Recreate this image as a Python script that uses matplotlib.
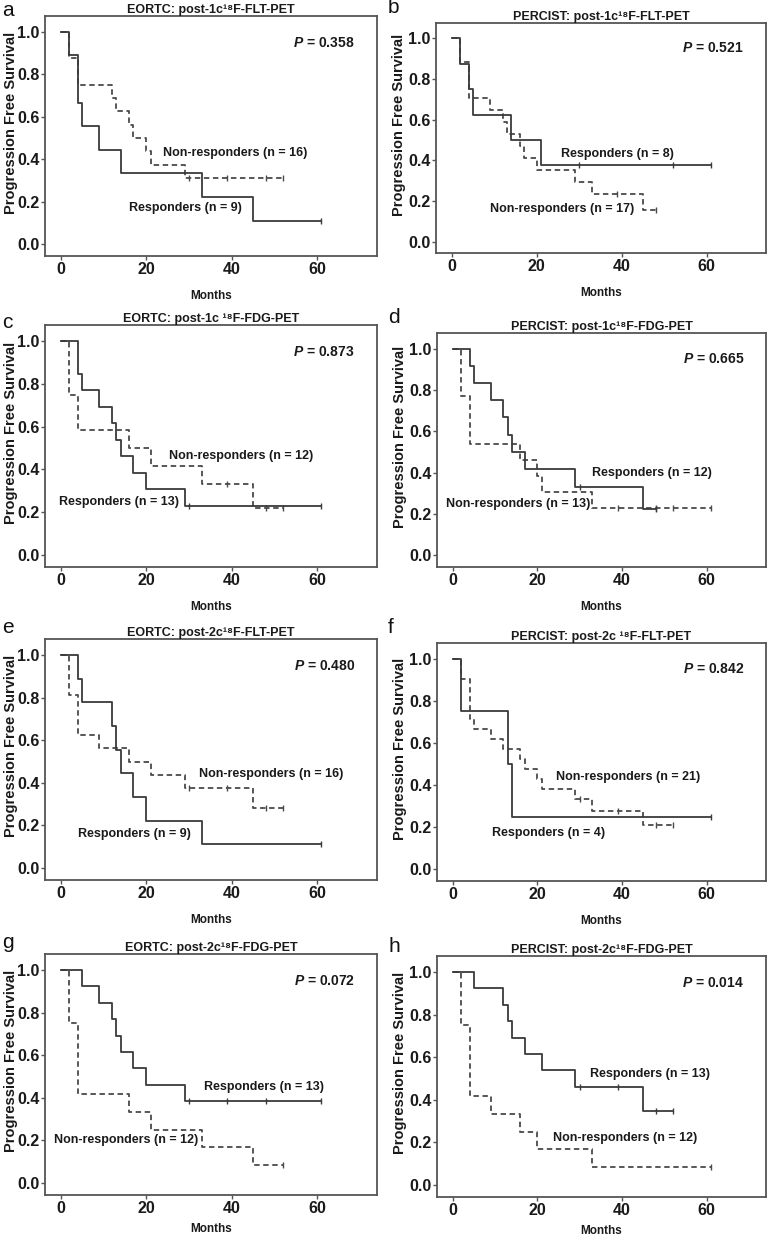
import numpy as np
import matplotlib
matplotlib.use('Agg')
import matplotlib.pyplot as plt

plt.rcParams['font.family'] = ['Liberation Sans', 'DejaVu Sans']
plt.rcParams['font.weight'] = 'bold'
plt.rcParams['axes.titleweight'] = 'bold'
plt.rcParams['axes.labelweight'] = 'bold'
plt.rcParams['mathtext.fontset'] = 'custom'
plt.rcParams['mathtext.rm'] = 'Liberation Sans:bold'
plt.rcParams['mathtext.bf'] = 'Liberation Sans:bold'
plt.rcParams['mathtext.it'] = 'Liberation Sans:italic:bold'

# ---- data ----
letters = ['a', 'b', 'c', 'd', 'e', 'f', 'g', 'h']
titles = ['EORTC: post-1c\u00b9\u2078F-FLT-PET',
          'PERCIST: post-1c\u00b9\u2078F-FLT-PET',
          'EORTC: post-1c \u00b9\u2078F-FDG-PET',
          'PERCIST: post-1c\u00b9\u2078F-FDG-PET',
          'EORTC: post-2c\u00b9\u2078F-FLT-PET',
          'PERCIST: post-2c \u00b9\u2078F-FLT-PET',
          'EORTC: post-2c\u00b9\u2078F-FDG-PET',
          'PERCIST: post-2c\u00b9\u2078F-FDG-PET']
pvalues = ['0.358', '0.521', '0.873', '0.665', '0.480', '0.842', '0.072', '0.014']

# responders (solid): event times, survival after event, end time, censor times
resp_t = [[2, 4, 5, 9, 14, 33, 45],
          [2, 4, 5, 14, 21],
          [4, 5, 9, 12, 13, 14, 17, 20, 29],
          [4, 5, 9, 12, 13, 14, 17, 29, 45],
          [4, 5, 12, 13, 14, 17, 20, 33],
          [2, 13, 14],
          [5, 9, 12, 13, 14, 17, 20, 29],
          [5, 12, 13, 14, 17, 21, 29, 45]]
resp_s = [[0.889, 0.667, 0.556, 0.444, 0.333, 0.222, 0.111],
          [0.875, 0.75, 0.625, 0.5, 0.375],
          [0.846, 0.769, 0.692, 0.615, 0.538, 0.462, 0.385, 0.308, 0.231],
          [0.917, 0.833, 0.75, 0.667, 0.583, 0.5, 0.417, 0.333, 0.222],
          [0.889, 0.778, 0.667, 0.556, 0.444, 0.333, 0.222, 0.111],
          [0.75, 0.5, 0.25],
          [0.923, 0.846, 0.769, 0.692, 0.615, 0.538, 0.462, 0.385],
          [0.923, 0.846, 0.769, 0.692, 0.615, 0.538, 0.462, 0.346]]
resp_end = [61, 61, 61, 48, 61, 61, 61, 52]
resp_cens = [[61], [30, 52, 61], [30, 61], [30, 48], [61], [61],
             [30, 39, 48, 61], [30, 39, 48, 52]]

# non-responders (dashed)
non_t = [[2, 4, 12, 13, 16, 17, 20, 21, 29],
         [2, 4, 9, 12, 13, 16, 17, 20, 29, 33, 45],
         [2, 4, 16, 21, 33, 45],
         [2, 4, 16, 20, 21, 33],
         [2, 4, 9, 16, 21, 29, 45],
         [2, 4, 5, 9, 12, 16, 17, 20, 21, 29, 33, 45],
         [2, 4, 16, 21, 33, 45],
         [2, 4, 9, 16, 20, 33]]
non_s = [[0.875, 0.75, 0.6875, 0.625, 0.5625, 0.5, 0.4375, 0.375, 0.3125],
         [0.882, 0.706, 0.647, 0.588, 0.529, 0.471, 0.412, 0.353, 0.294, 0.235, 0.157],
         [0.75, 0.583, 0.5, 0.417, 0.333, 0.222],
         [0.769, 0.538, 0.462, 0.385, 0.308, 0.231],
         [0.8125, 0.625, 0.5625, 0.5, 0.4375, 0.375, 0.281],
         [0.905, 0.714, 0.667, 0.619, 0.571, 0.524, 0.476, 0.429, 0.381, 0.333, 0.278, 0.208],
         [0.75, 0.417, 0.333, 0.25, 0.167, 0.083],
         [0.75, 0.417, 0.333, 0.25, 0.167, 0.083]]
non_end = [52, 48, 52, 61, 52, 52, 52, 61]
non_cens = [[30, 39, 48, 52], [39, 48], [39, 48, 52], [39, 48, 52, 61],
            [30, 39, 48, 52], [30, 39, 48, 52], [52], [61]]

resp_n = [9, 8, 13, 12, 9, 4, 13, 13]
non_n = [16, 17, 12, 13, 16, 21, 12, 12]
# label anchor (left x, center y) in data units
resp_lab = [(16, 0.17), (25.8, 0.43), (-0.5, 0.25), (33, 0.40),
            (4, 0.16), (9.2, 0.17), (33.5, 0.45), (32.5, 0.52)]
non_lab = [(23.9, 0.43), (9, 0.16), (25.4, 0.465), (-1.6, 0.25),
           (32.4, 0.44), (24.5, 0.44), (-1.6, 0.20), (23.8, 0.22)]

# axes boxes in pixels: left, top, right, bottom
boxes = [(45, 16, 377, 256), (436, 23, 766, 253),
         (45, 325, 377, 567), (437, 333, 766, 567),
         (45, 639, 377, 880), (437, 643, 766, 881),
         (45, 954, 377, 1195), (437, 956, 766, 1197)]
letter_pos = [(2, 16), (388, 13), (2, 328), (388, 323),
              (2, 633), (388, 633), (2, 948), (388, 952)]
xlabel_pads = [10, 10, 10, 10, 10, 10, 5, 5]

W, H = 771, 1240
line_col = '#3a3a3a'
dash_col = '#4a4a4a'
frame_col = '#555555'
text_col = '#1a1a1a'

fig = plt.figure(figsize=(W / 100, H / 100), dpi=100, facecolor='w')


def km_curve(ax, t, s, end, cens, style, col):
    x = np.array([0] + list(t) + [end], dtype=float)
    y = np.array([1.0] + list(s) + [s[-1]])
    ax.step(x, y, where='post', color=col, linestyle=style, linewidth=1.3,
            dashes=(3, 2) if style == '--' else (None, None))
    ci = np.searchsorted(x, np.array(cens, dtype=float), side='right') - 1
    ax.plot(cens, y[ci], linestyle='none', marker='|', markersize=4,
            markeredgewidth=1.0, color=col)


for i in range(8):
    l, t, r, b = boxes[i]
    ax = fig.add_axes([l / W, 1 - b / H, (r - l) / W, (b - t) / H])
    km_curve(ax, non_t[i], non_s[i], non_end[i], non_cens[i], '--', dash_col)
    km_curve(ax, resp_t[i], resp_s[i], resp_end[i], resp_cens[i], '-', line_col)

    ax.set_xlim(-3.7, 74)
    ax.set_ylim(-0.056, 1.075)
    ax.set_xticks([0, 20, 40, 60])
    ax.set_yticks([0.0, 0.2, 0.4, 0.6, 0.8, 1.0])
    ax.set_yticklabels(['0.0', '0.2', '0.4', '0.6', '0.8', '1.0'])
    ax.tick_params(axis='both', direction='out', length=3, width=1.0,
                   color=frame_col, labelsize=11.5, labelcolor=text_col, pad=1)
    for pos in ['top', 'bottom', 'left', 'right']:
        ax.spines[pos].set_linewidth(1.3)
        ax.spines[pos].set_color(frame_col)

    ax.set_xlabel('Months', fontsize=8.5, labelpad=xlabel_pads[i], color=text_col)
    ax.set_ylabel('Progression Free Survival', fontsize=10.5, color=text_col)
    ax.yaxis.set_label_coords(-0.082 if i % 2 == 0 else -0.09, 0.555)
    ax.set_title(titles[i], fontsize=9, pad=1, color=text_col)

    ax.text(68.8, 0.95, r'$P$ = ' + pvalues[i], ha='right', va='center',
            fontsize=10, color=text_col)
    ax.text(resp_lab[i][0], resp_lab[i][1], 'Responders (n = %d)' % resp_n[i],
            ha='left', va='center', fontsize=9, color=text_col)
    ax.text(non_lab[i][0], non_lab[i][1], 'Non-responders (n = %d)' % non_n[i],
            ha='left', va='center', fontsize=9, color=text_col)

    lx, ly = letter_pos[i]
    fig.text(lx / W, 1 - ly / H, letters[i], ha='left', va='baseline',
             fontsize=15, fontweight='normal', color='#111111')

fig.savefig('out.png', dpi=100, facecolor='w')
